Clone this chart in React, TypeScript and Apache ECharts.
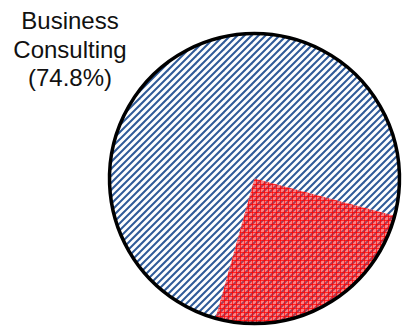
import React, { useEffect, useRef } from 'react';
import * as echarts from 'echarts';

const categories = ['Business Consulting', 'Other Services'];
const shares = [74.8, 25.2];
const labelledIndex = 0;

function makeTile(withRed: boolean): HTMLCanvasElement {
  const size = 28;
  const step = 7;
  const c = document.createElement('canvas');
  c.width = size;
  c.height = size;
  const ctx = c.getContext('2d')!;
  ctx.fillStyle = '#ffffff';
  ctx.fillRect(0, 0, size, size);
  ctx.strokeStyle = '#2f5a98';
  ctx.lineWidth = 2;
  for (let k = -size; k <= size * 2; k += step) {
    ctx.beginPath();
    ctx.moveTo(k - 2, size + 2);
    ctx.lineTo(k + size + 2, -2);
    ctx.stroke();
  }
  if (withRed) {
    ctx.fillStyle = 'rgba(255,40,40,0.58)';
    ctx.fillRect(0, 0, size, size);
    ctx.strokeStyle = 'rgba(255,0,0,0.7)';
    ctx.lineWidth = 1;
    for (let i = 0; i < size; i += 4) {
      ctx.beginPath();
      ctx.moveTo(i + 0.5, 0);
      ctx.lineTo(i + 0.5, size);
      ctx.stroke();
      ctx.beginPath();
      ctx.moveTo(0, i + 0.5);
      ctx.lineTo(size, i + 0.5);
      ctx.stroke();
    }
  }
  return c;
}

export default function App() {
  const ref = useRef<HTMLDivElement>(null);
  useEffect(() => {
    document.body.style.margin = '0';
    const chart = echarts.init(ref.current!, null, { renderer: 'svg' });
    const fills = [makeTile(false), makeTile(true)];
    const data = categories.map((name, i) => ({
      name,
      value: shares[i],
      itemStyle: { color: { image: fills[i], repeat: 'repeat' } as any, borderWidth: 0 },
      label: { show: i === labelledIndex },
    }));
    chart.setOption({
      animation: false,
      series: [
        {
          type: 'pie',
          center: [254.5, 178.5],
          radius: 145,
          startAngle: 254.4,
          clockwise: true,
          silent: true,
          data,
          label: {
            show: false,
            formatter: (p: any) => p.name.replace(' ', '\n') + '\n(' + p.percent.toFixed(1) + '%)',
            fontFamily: 'Liberation Sans, Arial, sans-serif',
            fontSize: 24,
            lineHeight: 28.5,
            color: '#111',
            align: 'center',
          },
          labelLine: { show: false },
          labelLayout: { x: 70, y: 49, align: 'center', verticalAlign: 'middle' },
        },
        {
          type: 'pie',
          center: [254.5, 178.5],
          radius: 145,
          silent: true,
          z: 5,
          data: [{ value: 1, name: 'outline' }],
          itemStyle: { color: 'rgba(0,0,0,0)', borderColor: '#000', borderWidth: 3.5 },
          label: { show: false },
          labelLine: { show: false },
        },
      ],
    });
    return () => chart.dispose();
  }, []);
  return <div ref={ref} style={{ width: 403, height: 326 }} />;
}
